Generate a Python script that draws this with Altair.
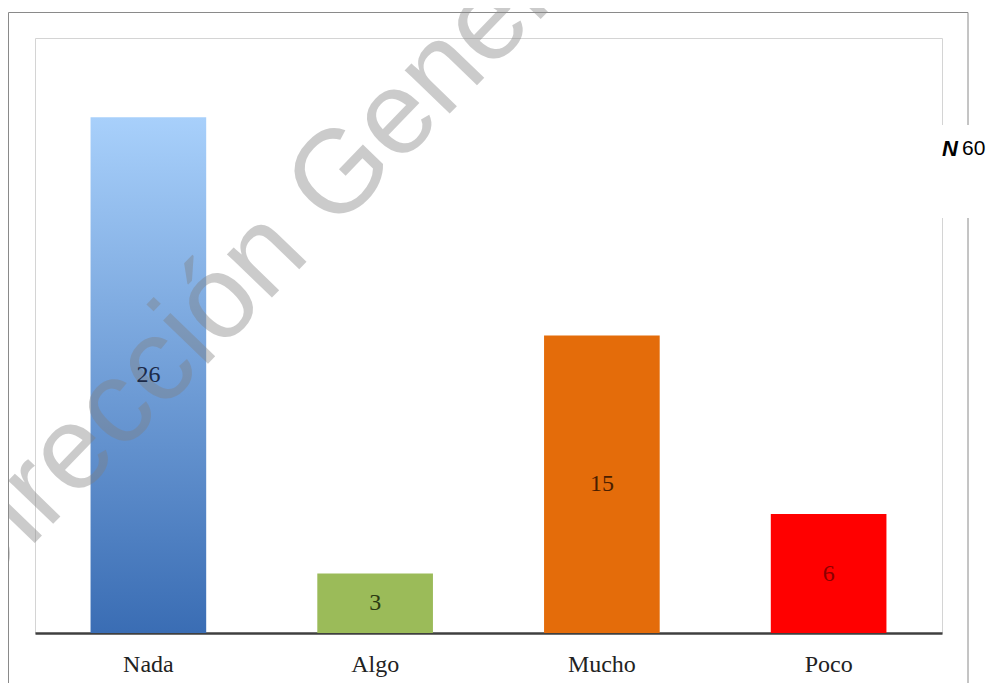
import altair as alt
import pandas as pd

categories = ["Nada", "Algo", "Mucho", "Poco"]
values = [26, 3, 15, 6]
bar_colors = ["#3a6db4", "#9bbb59", "#e46c0a", "#ff0000"]
label_colors = ["#1c2a48", "#2b3a12", "#4a1e00", "#8b0000"]
watermark = "Dirección General"
n_label = "N"
n_value = "60"

df = pd.DataFrame({
    "cat": categories,
    "val": values,
    "color": bar_colors,
    "lcolor": label_colors,
})
df["mid"] = df["val"] / 2
one = pd.DataFrame({"a": [0]})

W, H = 907, 595

x_scale = alt.Scale(domain=categories, paddingInner=0.49, paddingOuter=0.245)
y_scale = alt.Scale(domain=[0, 30], nice=False)

x_axis = alt.Axis(
    title=None, labelAngle=0, ticks=False, domainColor="#3f3f3f", domainWidth=2.5,
    labelFont="Liberation Serif", labelFontSize=24, labelColor="#222222", labelPadding=19,
    grid=False,
)

base = alt.Chart(df)

gradient = {
    "gradient": "linear", "x1": 0, "x2": 0, "y1": 0, "y2": 1,
    "stops": [{"offset": 0, "color": "#a8d0fb"}, {"offset": 1, "color": "#3a6db4"}],
}

bar_nada = base.transform_filter(alt.datum.cat == "Nada").mark_bar(color=gradient).encode(
    x=alt.X("cat:N", scale=x_scale, axis=x_axis),
    y=alt.Y("val:Q", scale=y_scale, axis=None),
)

bar_rest = base.transform_filter(alt.datum.cat != "Nada").mark_bar().encode(
    x=alt.X("cat:N", scale=x_scale, axis=x_axis),
    y=alt.Y("val:Q", scale=y_scale, axis=None),
    color=alt.Color("color:N", scale=None, legend=None),
)

wm = alt.Chart(one).mark_text(
    text=watermark, font="Liberation Sans", fontSize=118, angle=314,
    align="center", baseline="middle", color="#808080", opacity=0.4,
).encode(x=alt.value(238), y=alt.value(208))

labels = base.mark_text(font="Liberation Serif", fontSize=24, baseline="middle").encode(
    x=alt.X("cat:N", scale=x_scale, axis=x_axis),
    y=alt.Y("mid:Q", scale=y_scale, axis=None),
    text=alt.Text("val:Q"),
    color=alt.Color("lcolor:N", scale=None, legend=None),
)

border_color = "#8a8a8a"
top_rule = alt.Chart(one).mark_rule(color=border_color, strokeWidth=1).encode(
    x=alt.value(-26.5), x2=alt.value(933), y=alt.value(-25.5))
left_rule = alt.Chart(one).mark_rule(color=border_color, strokeWidth=1).encode(
    x=alt.value(-26.5), y=alt.value(-25.5), y2=alt.value(680))
right_rule = alt.Chart(one).mark_rule(color=border_color, strokeWidth=1).encode(
    x=alt.value(933), y=alt.value(-25.5), y2=alt.value(680))

white_box = alt.Chart(one).mark_rect(color="white").encode(
    x=alt.value(900), x2=alt.value(951), y=alt.value(87), y2=alt.value(180))

n_text = alt.Chart(one).mark_text(
    text=n_label, font="Liberation Sans", fontSize=22, fontWeight="bold", fontStyle="italic",
    align="left", baseline="middle", color="#000000",
).encode(x=alt.value(907), y=alt.value(111))

n60_text = alt.Chart(one).mark_text(
    text=n_value, font="Liberation Sans", fontSize=21,
    align="left", baseline="middle", color="#000000",
).encode(x=alt.value(927), y=alt.value(111))

chart = alt.layer(
    bar_nada, bar_rest, wm, labels, top_rule, left_rule, right_rule, white_box, n_text, n60_text
).properties(
    width=W, height=H,
    autosize=alt.AutoSizeParams(type="none"),
    padding={"left": 27, "top": 30, "right": 44, "bottom": 50},
    background="white",
).configure_view(stroke="#d4d4d4", strokeWidth=1)

chart.save("out.html", embed_options={"renderer": "svg", "actions": False})
